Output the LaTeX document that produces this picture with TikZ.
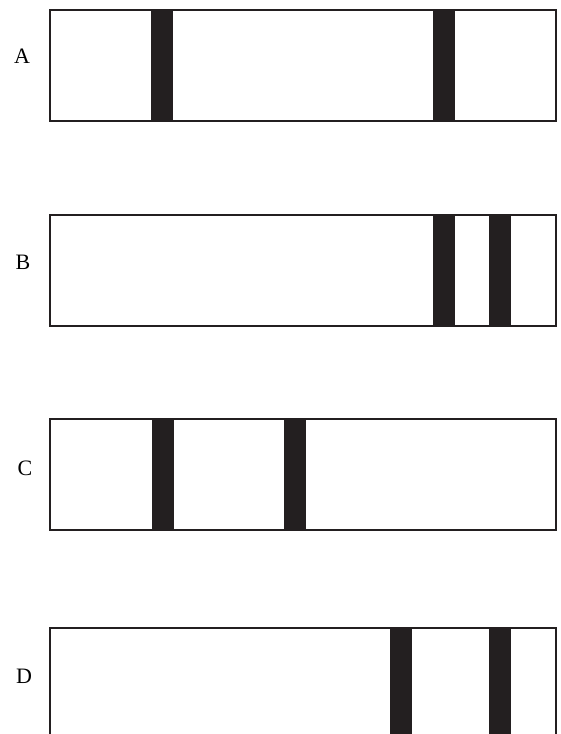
\documentclass[tikz,border=0pt]{standalone}
\usepackage{fontspec}
\setmainfont{Liberation Serif}
\usepackage{tikz}
\usetikzlibrary{positioning}

\definecolor{inkblack}{HTML}{231F20}

\begin{document}
\begin{tikzpicture}[x=1pt,y=-1pt]
	\tikzset{
		gelframe/.style={draw=inkblack,line width=2pt},
		band/.style={fill=inkblack,draw=none},
		lanelabel/.style={font=\fontsize{22}{26}\selectfont,inner sep=0}
	}
	
	\useasboundingbox (0,0) rectangle (560,734);
	\clip (0,0) rectangle (560,734);
	
	% lanes: top edge / label position / band positions
	\foreach \top/\name/\lx/\ly/\bandA/\bandB in {10/A/22/56/151/433, 215/B/23/262/433/489, 419/C/25/468/152/284, 628/D/24/676/390/489}{
		\foreach \b in {\bandA,\bandB}
		\fill[band] (\b,\top) rectangle ++(22,111);
		\draw[gelframe] (50,\top) rectangle (556,\top+111);
		\node[lanelabel] (lab\name) at (\lx,\ly) {\name};
	}
\end{tikzpicture}
\end{document}
